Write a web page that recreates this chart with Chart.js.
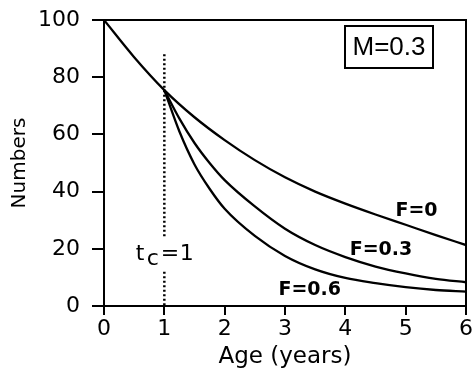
<!DOCTYPE html>
<html>
<head>
<meta charset="utf-8">
<script src="https://cdn.jsdelivr.net/npm/chart.js@4.4.1/dist/chart.umd.min.js"></script>
<style>
    html, body { margin: 0; padding: 0; background: #fff; }
    #wrap { width: 472px; height: 372px; }
</style>
</head>
<body>
<div id="wrap"><canvas id="survivalChart" width="472" height="372"></canvas></div>
<script>
// Ages (years)
const agesUnfished = [0, 0.5, 1, 1.5, 2, 2.5, 3, 3.5, 4, 4.5, 5, 5.5, 6];
const agesFished = [1, 1.25, 1.5, 1.75, 2, 2.5, 3, 3.5, 4, 4.5, 5, 5.5, 6];

// Numbers surviving
const numbersF0 = [100, 87, 75.5, 66, 58, 51, 45, 40, 35.8, 32, 28.4, 24.8, 21.3];
const numbersF03 = [75.5, 65.5, 57, 50, 44, 34.8, 27, 21.3, 17.1, 13.8, 11.4, 9.5, 8.3];
const numbersF06 = [75.5, 61, 49.5, 41, 34, 24.5, 17.5, 12.8, 9.8, 8.0, 6.6, 5.6, 5.0];

// Age at first capture marker (dotted line, broken around its label)
const tcAge = 1;
const tcLine = [88, 24, null, 12, 0];

const xTicks = [0, 1, 2, 3, 4, 5, 6];
const yTicks = [0, 20, 40, 60, 80, 100];

const curveLabels = [
    { text: 'F=0', x: 5.18, y: 33.2 },
    { text: 'F=0.3', x: 4.59, y: 19.6 },
    { text: 'F=0.6', x: 3.41, y: 5.6 }
];

function toPoints(xs, ys) {
    return xs.map((x, i) => ({ x: x, y: ys[i] }));
}

const curveStyle = {
    borderColor: '#000',
    borderWidth: 2.3,
    pointRadius: 0,
    fill: false,
    cubicInterpolationMode: 'monotone'
};

// Frame, curve labels, t_c label and the M box
const decorations = {
    id: 'decorations',
    afterDatasetsDraw(chart) {
        const ctx = chart.ctx;
        const area = chart.chartArea;
        const xs = chart.scales.x;
        const ys = chart.scales.y;
        ctx.save();

        // top and right edges of the frame
        ctx.strokeStyle = '#000';
        ctx.lineWidth = 2;
        ctx.beginPath();
        ctx.moveTo(area.left, area.top);
        ctx.lineTo(area.right, area.top);
        ctx.lineTo(area.right, area.bottom);
        ctx.stroke();

        ctx.fillStyle = '#000';
        ctx.textAlign = 'center';
        ctx.textBaseline = 'middle';
        ctx.font = 'bold 19px "DejaVu Sans"';
        curveLabels.forEach(l => {
            ctx.fillText(l.text, xs.getPixelForValue(l.x), ys.getPixelForValue(l.y));
        });

        // t_c = 1
        ctx.textAlign = 'left';
        ctx.textBaseline = 'alphabetic';
        ctx.font = '22px "DejaVu Sans"';
        const px = xs.getPixelForValue(0.51);
        const py = ys.getPixelForValue(16.1);
        ctx.fillText('t', px + 1, py);
        ctx.fillText('c', px + 12, py + 5);
        ctx.fillText('=', px + 26, py);
        ctx.fillText('1', px + 45, py);

        // M box
        const bw = 88, bh = 42;
        const bx = area.right - 33 - bw;
        const by = area.top + 6;
        ctx.lineWidth = 2;
        ctx.strokeRect(bx, by, bw, bh);
        ctx.font = '26px "Liberation Sans"';
        ctx.textAlign = 'center';
        ctx.textBaseline = 'middle';
        ctx.fillText('M=0.3', bx + bw / 2, by + bh / 2 + 1);

        ctx.restore();
    }
};

const ctx = document.getElementById('survivalChart').getContext('2d');
const chart = new Chart(ctx, {
    type: 'line',
    data: {
        datasets: [
            Object.assign({ label: 'F=0', data: toPoints(agesUnfished, numbersF0) }, curveStyle),
            Object.assign({ label: 'F=0.3', data: toPoints(agesFished, numbersF03) }, curveStyle),
            Object.assign({ label: 'F=0.6', data: toPoints(agesFished, numbersF06) }, curveStyle),
            {
                label: 'tc',
                data: tcLine.map(v => ({ x: tcAge, y: v })),
                borderColor: '#000',
                borderWidth: 2.5,
                borderDash: [2, 2.5],
                pointRadius: 0,
                spanGaps: false
            }
        ]
    },
    options: {
        responsive: false,
        animation: false,
        layout: { padding: { left: 8, right: 0, top: 0, bottom: 0 } },
        plugins: {
            legend: { display: false },
            tooltip: { enabled: false }
        },
        scales: {
            x: {
                type: 'linear',
                min: 0,
                max: 6,
                afterBuildTicks(scale) { scale.ticks = xTicks.map(v => ({ value: v })); },
                afterFit(scale) {
                    scale.height = 66;
                    scale.paddingRight = 6;
                },
                border: { display: true, color: '#000', width: 2 },
                grid: { drawOnChartArea: false, drawTicks: true, tickLength: 9, color: '#000', lineWidth: 2 },
                ticks: { color: '#000', font: { family: 'DejaVu Sans', size: 22 }, padding: 1 },
                title: { display: true, text: 'Age (years)', color: '#000', font: { family: 'DejaVu Sans', size: 23 }, padding: { top: 0, bottom: 1 } }
            },
            y: {
                min: 0,
                max: 100,
                afterBuildTicks(scale) { scale.ticks = yTicks.map(v => ({ value: v })); },
                afterFit(scale) {
                    scale.width = 96;
                    scale.paddingTop = 20;
                },
                border: { display: true, color: '#000', width: 2 },
                grid: { drawOnChartArea: false, drawTicks: true, tickLength: 12, color: '#000', lineWidth: 2 },
                ticks: { color: '#000', font: { family: 'DejaVu Sans', size: 22 }, padding: 12 },
                title: { display: true, text: 'Numbers', color: '#000', font: { family: 'DejaVu Sans', size: 20 }, padding: { top: 0, bottom: 0 } }
            }
        }
    },
    plugins: [decorations]
});
</script>
</body>
</html>
